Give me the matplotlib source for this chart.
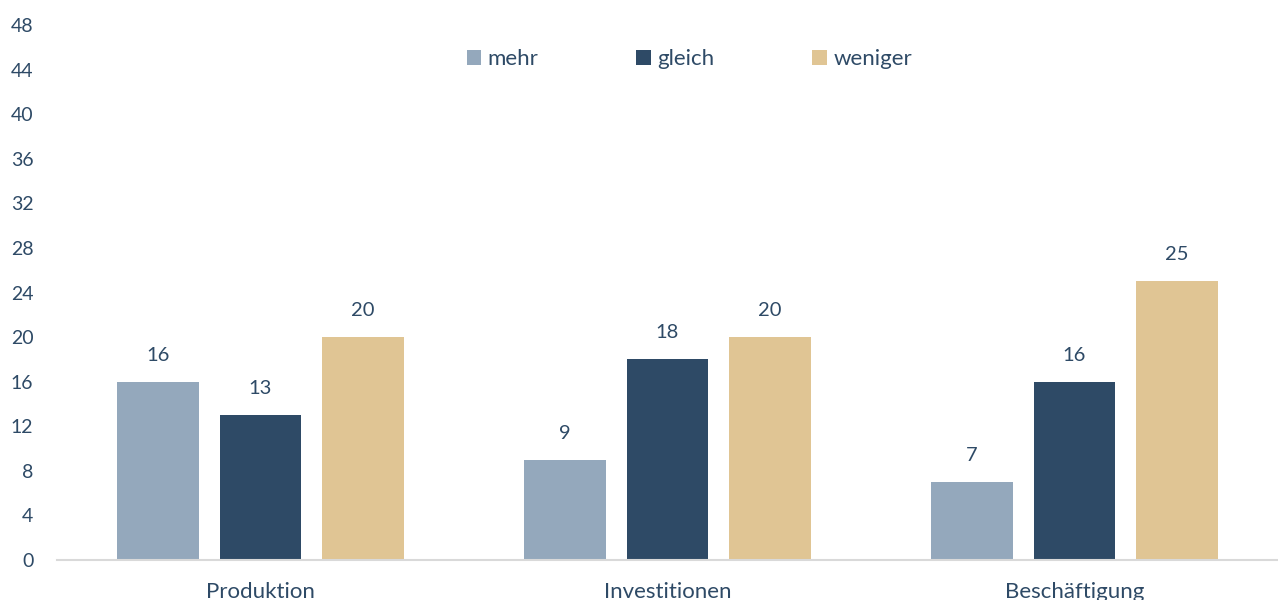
import matplotlib
matplotlib.use("Agg")
import matplotlib.pyplot as plt
import numpy as np

categories = ["Produktion", "Investitionen", "Beschäftigung"]
series_names = ["mehr", "gleich", "weniger"]
mehr = [16, 9, 7]
gleich = [13, 18, 16]
weniger = [20, 20, 25]
yticks = list(range(0, 49, 4))

colors = ["#94A8BC", "#2E4A66", "#E0C594"]
text_color = "#2E4A66"

plt.rcParams['font.family'] = ['Lato', 'DejaVu Sans']

fig = plt.figure(figsize=(12.78, 6.0), dpi=100)
ax = fig.add_axes([57/1278, 40/600, 1 - 57/1278, (560-25)/600])

x = np.arange(len(categories))
width = 0.2
step = 0.252
for i, (name, vals) in enumerate(zip(series_names, [mehr, gleich, weniger])):
    pos = x + (i - 1) * step
    bars = ax.bar(pos, vals, width=width, color=colors[i], label=name, zorder=2)
    for b, v in zip(bars, vals):
        ax.annotate(str(v), (b.get_x() + b.get_width()/2, v), xytext=(0, 13),
                    textcoords="offset points", ha="center", va="bottom",
                    fontsize=14.5, color=text_color)

ax.set_xlim(-0.5, 2.5)
ax.set_ylim(0, 48)
ax.set_yticks(yticks)
ax.set_xticks(x)
ax.set_xticklabels(categories)
ax.tick_params(axis="y", length=0, labelsize=14, labelcolor=text_color, pad=17)
ax.tick_params(axis="x", length=0, labelsize=16, labelcolor=text_color, pad=16)
for s in ["top", "right", "left"]:
    ax.spines[s].set_visible(False)
ax.spines["bottom"].set_color("#D9D9D9")
ax.spines["bottom"].set_linewidth(1.5)

leg = ax.legend(loc="upper center", bbox_to_anchor=(0.518, 0.992), ncol=3, frameon=False,
                fontsize=16, handlelength=0.65, handleheight=0.65, handletextpad=0.3,
                columnspacing=4.4)
for t in leg.get_texts():
    t.set_color(text_color)

fig.savefig("out.png", dpi=100)
